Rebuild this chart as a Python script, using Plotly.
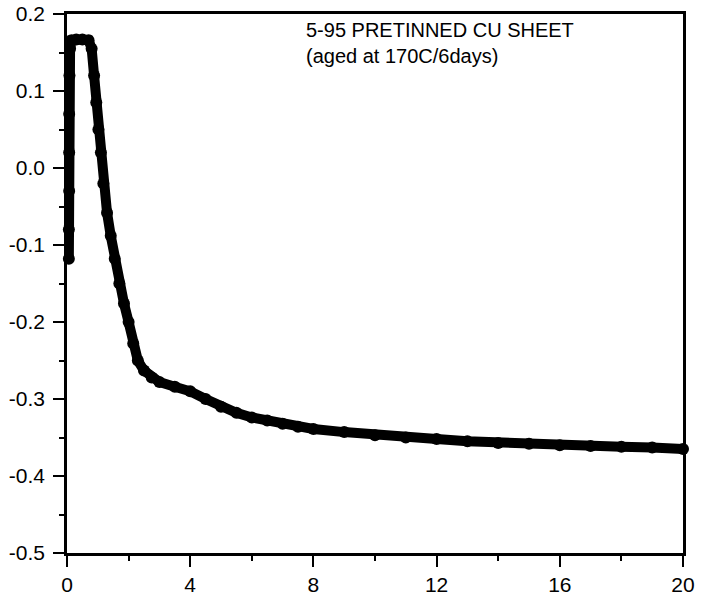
import plotly.graph_objects as go

# Measured curve: time vs. value for 5-95 pretinned Cu sheet (aged 170C / 6 days)
time = [0.06, 0.06, 0.07, 0.07, 0.07, 0.08, 0.10, 0.15, 0.30, 0.50, 0.70,
        0.80, 0.88, 0.95, 1.02, 1.10, 1.18, 1.30, 1.42, 1.55, 1.70, 1.85,
        2.00, 2.15, 2.30, 2.50, 2.75, 3.00, 3.50, 4.00, 4.50, 5.00, 5.50,
        6.00, 6.50, 7.00, 7.50, 8.00, 9.00, 10.0, 11.0, 12.0, 13.0, 14.0,
        15.0, 16.0, 17.0, 18.0, 19.0, 20.0]
value = [-0.118, -0.080, -0.030, 0.020, 0.070, 0.120, 0.155, 0.166, 0.167, 0.167, 0.166,
         0.155, 0.120, 0.085, 0.050, 0.020, -0.020, -0.058, -0.088, -0.118, -0.150, -0.176,
         -0.200, -0.228, -0.250, -0.263, -0.272, -0.278, -0.284, -0.290, -0.300, -0.310, -0.318,
         -0.324, -0.328, -0.332, -0.336, -0.339, -0.343, -0.347, -0.350, -0.352, -0.355, -0.357,
         -0.358, -0.360, -0.361, -0.362, -0.363, -0.365]

x_ticks = [0, 4, 8, 12, 16, 20]
y_ticks = [0.2, 0.1, 0.0, -0.1, -0.2, -0.3, -0.4, -0.5]
y_labels = ["0.2", "0.1", "0.0", "-0.1", "-0.2", "-0.3", "-0.4", "-0.5"]

title_lines = ["5-95 PRETINNED CU SHEET", "(aged at 170C/6days)"]

FONT = "Liberation Sans, Arial, sans-serif"

fig = go.Figure()
fig.add_trace(go.Scatter(
    x=time, y=value, mode="lines+markers",
    line=dict(color="black", width=10),
    marker=dict(color="black", size=12),
    cliponaxis=False, showlegend=False,
))

axis_common = dict(
    showgrid=False, zeroline=False, showline=True, linecolor="black",
    linewidth=2.5, mirror=True, ticks="outside", tickcolor="black",
    tickwidth=2, ticklen=11, automargin=False,
    tickfont=dict(family=FONT, size=21, color="black"),
)

fig.update_xaxes(
    range=[0, 20], tickvals=x_ticks, ticktext=[str(v) for v in x_ticks],
    minor=dict(dtick=2, tick0=0, ticks="outside", ticklen=5, tickwidth=2, tickcolor="black"),
    **axis_common,
)
fig.update_yaxes(
    range=[-0.5, 0.2], tickvals=y_ticks, ticktext=y_labels,
    minor=dict(dtick=0.05, tick0=0, ticks="outside", ticklen=5, tickwidth=2, tickcolor="black"),
    ticklabelstandoff=4,
    **axis_common,
)

fig.add_annotation(
    x=0.385, y=1.0, xref="paper", yref="paper", xanchor="left", yanchor="top",
    yshift=-3,
    text="<br>".join(title_lines), showarrow=False, align="left",
    font=dict(family=FONT, size=20, color="black"),
)

fig.update_layout(
    width=707, height=597,
    margin=dict(l=67, r=24, t=14, b=44),
    paper_bgcolor="white", plot_bgcolor="white",
)

fig.write_html("out.html")
